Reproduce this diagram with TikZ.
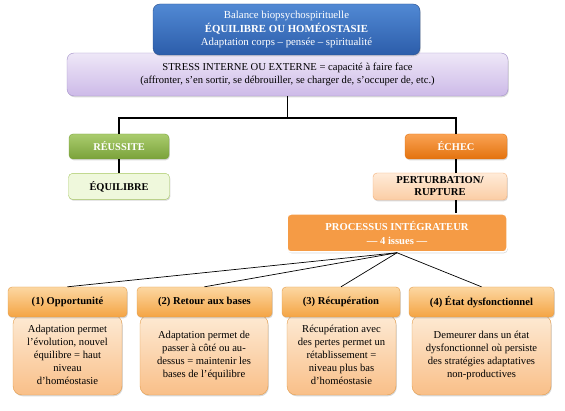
\documentclass[tikz,border=0pt]{standalone}
\usepackage{fontspec}
\setmainfont{Liberation Serif}
\usetikzlibrary{positioning,calc,shadows}
\definecolor{BalTop}{HTML}{5189D4}
\definecolor{BalBot}{HTML}{2C5DAA}
\definecolor{BalLine}{HTML}{2A4F8C}
\definecolor{StressTop}{HTML}{EEE7F7}
\definecolor{StressBot}{HTML}{CDBAE8}
\definecolor{StressLine}{HTML}{A290C8}
\definecolor{OkTop}{HTML}{AACC6E}
\definecolor{OkBot}{HTML}{7AA23A}
\definecolor{OkPale}{HTML}{EFF8DC}
\definecolor{OkLine}{HTML}{A7C862}
\definecolor{FailTop}{HTML}{FAA354}
\definecolor{FailBot}{HTML}{E3720E}
\definecolor{PaleTop}{HTML}{FFEBD9}
\definecolor{PaleBot}{HTML}{FBCDA4}
\definecolor{PaleLine}{HTML}{F2AE78}
\definecolor{ProcFill}{HTML}{F59B45}
\definecolor{HeadTop}{HTML}{FCD7A2}
\definecolor{HeadBot}{HTML}{F4A443}
\definecolor{HeadLine}{HTML}{E39C4A}
\definecolor{BodyTop}{HTML}{FDEAD4}
\definecolor{BodyBot}{HTML}{F9BF88}

\begin{document}
\begin{tikzpicture}[x=1pt,y=-1pt,
  every node/.style={font=\fontsize{10.6}{13}\selectfont},
  box/.style={rounded corners=4pt,align=center,inner sep=2pt,
    drop shadow={opacity=0.3,shadow xshift=0.8pt,shadow yshift=-1.3pt}},
  tree/.style={line width=1.6pt,black},
  issue/.style={line width=0.7pt,black},
  head/.style={box,draw=HeadLine,top color=HeadTop,bottom color=HeadBot,minimum height=30pt,font=\fontsize{10.6}{13}\selectfont\bfseries},
  body/.style={box,draw=HeadLine,top color=BodyTop,bottom color=BodyBot,minimum height=80pt,rounded corners=9pt},
]
\useasboundingbox (0,0) rectangle (565,411);

% stress and balance at the top
\node[box,draw=StressLine,top color=StressTop,bottom color=StressBot,rounded corners=7pt,
  minimum width=441pt,minimum height=43pt] (stress) at (287.5,74.5)
  {STRESS INTERNE OU EXTERNE = capacité à faire face\\(affronter, s’en sortir, se débrouiller, se charger de, s’occuper de, etc.)};
\node[box,draw=BalLine,top color=BalTop,bottom color=BalBot,rounded corners=7pt,text=white,
  minimum width=267pt,minimum height=51pt,font=\fontsize{10.8}{13.5}\selectfont] (balance) at (286.5,29.5)
  {Balance biopsychospirituelle\\\textbf{ÉQUILIBRE OU HOMÉOSTASIE}\\Adaptation corps -- pensée -- spiritualité};

% the two branches
\node[box,draw=OkBot,top color=OkTop,bottom color=OkBot,text=white,font=\fontsize{10.4}{13}\selectfont\bfseries,
  minimum width=100pt,minimum height=25pt] (reussite) at (119,146.5) {RÉUSSITE};
\node[box,draw=OkLine,fill=OkPale,font=\fontsize{10.4}{13}\selectfont\bfseries,
  minimum width=101pt,minimum height=26pt,below=14pt of reussite] (equilibre) {ÉQUILIBRE};
\node[box,draw=FailBot,top color=FailTop,bottom color=FailBot,text=white,font=\fontsize{10.4}{13}\selectfont\bfseries,
  minimum width=102pt,minimum height=25pt] (echec) at (456,146.5) {ÉCHEC};
\node[box,draw=PaleLine,top color=PaleTop,bottom color=PaleBot,font=\fontsize{10.6}{12}\selectfont\bfseries,
  minimum width=134pt,minimum height=27pt] (rupture) at (440,186.5) {PERTURBATION/\\RUPTURE};
\node[box,draw=white,line width=1.5pt,fill=ProcFill,text=white,font=\fontsize{10.6}{14}\selectfont\bfseries,
  minimum width=220pt,minimum height=38pt] (proc) at (397,233) {PROCESSUS INTÉGRATEUR\\--- 4 issues ---};

\coordinate (fork) at ($(stress.south)+(0,22)$);
\draw[tree] (stress.south) -- (fork);
\draw[tree] (reussite.north) |- (fork) -| (echec.north);
\draw[tree] (reussite) -- (equilibre);
\draw[tree] (echec.south) -- (echec.south |- rupture.north);
\draw[tree] (echec.south |- rupture.south) -- (echec.south |- proc.north);

% the four issues
\node[body,minimum width=109pt] (b1) at (67.5,355)
  {Adaptation permet\\l’évolution, nouvel\\équilibre = haut\\niveau\\d’homéostasie};
\node[body,minimum width=128pt] (b2) at (204,355)
  {Adaptation permet de\\passer à côté ou au-\\dessus = maintenir les\\bases de l’équilibre};
\node[body,minimum width=109pt] (b3) at (341.5,355)
  {Récupération avec\\des pertes permet un\\rétablissement =\\niveau plus bas\\d’homéostasie};
\node[body,minimum width=139pt] (b4) at (481.5,355)
  {Demeurer dans un état\\dysfonctionnel où persiste\\des stratégies adaptatives\\non-productives};
\node[head,minimum width=119pt] (h1) at (67.5,302) {(1) Opportunité};
\node[head,minimum width=135pt] (h2) at (204.5,302) {(2) Retour aux bases};
\node[head,minimum width=118pt] (h3) at (341,302) {(3) Récupération};
\node[head,minimum width=145pt] (h4) at (481.5,302) {(4) État dysfonctionnel};

\draw[issue] (proc.south) -- (h1.north);
\draw[issue] (proc.south) -- (h2.north);
\draw[issue] (proc.south) -- (h3.north);
\draw[issue] (proc.south) -- (h4.north);
\end{tikzpicture}
\end{document}
